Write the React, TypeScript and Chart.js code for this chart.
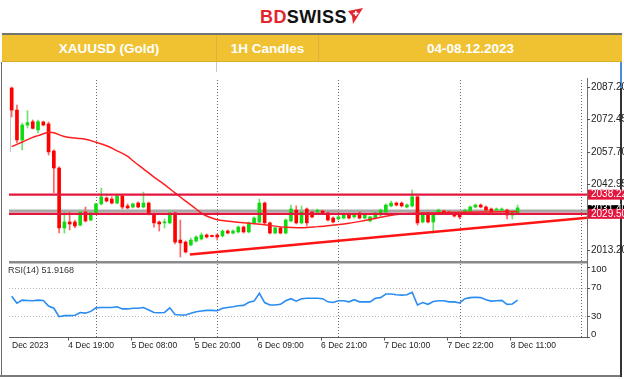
import React, { useEffect, useRef } from 'react';
import { Chart, registerables } from 'chart.js';

Chart.register(...registerables);

// ---- candle data (XAUUSD, 1H, 4 Dec 08:00 -> 8 Dec 11:00) ----
const opens = [
  2086.6, 2076.6, 2063.0, 2069.8, 2071.3, 2067.6, 2071.2, 2070.3, 2058.0, 2050.3,
  2023.1, 2025.8, 2025.8, 2024.4, 2030.3, 2026.7, 2029.9, 2034.0, 2036.7, 2036.2,
  2034.4, 2037.6, 2033.1, 2032.6, 2034.4, 2032.6, 2034.4, 2029.4, 2025.8, 2025.4,
  2025.4, 2029.9, 2017.6, 2016.7, 2015.4, 2017.2, 2018.1, 2019.9, 2019.7, 2019.9,
  2019.5, 2021.7, 2020.8, 2021.3, 2023.5, 2021.3, 2025.4, 2025.8, 2034.4, 2025.4,
  2020.8, 2023.1, 2020.8, 2026.3, 2031.2, 2025.4, 2031.7, 2030.3, 2030.3, 2030.8,
  2029.9, 2027.6, 2027.2, 2027.6, 2029.4, 2028.1, 2029.9, 2027.6, 2026.3, 2027.6,
  2029.0, 2030.3, 2033.1, 2034.4, 2034.4, 2032.6, 2033.1, 2037.2, 2025.8, 2029.9,
  2025.8, 2029.9, 2030.8, 2030.3, 2029.9, 2029.9, 2029.9, 2030.8, 2032.6, 2033.5,
  2032.6, 2031.7, 2031.2, 2031.2, 2031.2, 2029.0, 2029.9,
];
const highs = [
  2087.1, 2078.9, 2070.7, 2076.3, 2072.1, 2072.1, 2071.6, 2071.2, 2058.5, 2050.8,
  2030.3, 2030.3, 2026.7, 2031.2, 2032.6, 2030.8, 2034.4, 2041.2, 2037.2, 2037.2,
  2038.1, 2038.1, 2034.0, 2034.4, 2034.9, 2039.4, 2034.9, 2029.9, 2026.3, 2027.2,
  2031.2, 2030.3, 2026.7, 2017.2, 2018.5, 2019.5, 2020.8, 2020.4, 2019.9, 2020.4,
  2022.2, 2022.2, 2022.2, 2024.0, 2024.0, 2025.8, 2028.1, 2036.2, 2034.9, 2025.8,
  2023.5, 2023.5, 2027.2, 2033.5, 2033.1, 2033.1, 2032.2, 2030.8, 2031.7, 2031.2,
  2030.3, 2028.1, 2028.5, 2029.9, 2029.9, 2029.9, 2030.3, 2029.4, 2028.5, 2030.3,
  2031.7, 2034.0, 2035.3, 2034.9, 2034.9, 2034.0, 2040.3, 2037.6, 2030.3, 2030.3,
  2030.8, 2031.7, 2031.2, 2030.8, 2030.3, 2030.3, 2031.7, 2033.1, 2034.0, 2034.0,
  2033.1, 2032.2, 2032.2, 2032.2, 2031.7, 2030.8, 2033.5,
];
const lows = [
  2073.5, 2061.7, 2058.5, 2068.5, 2068.0, 2066.2, 2069.4, 2056.2, 2039.0, 2020.8,
  2020.8, 2022.2, 2023.1, 2024.0, 2025.8, 2026.3, 2029.4, 2033.5, 2034.9, 2034.0,
  2034.0, 2031.7, 2031.7, 2032.2, 2032.2, 2032.2, 2029.0, 2023.5, 2021.7, 2023.1,
  2024.9, 2015.8, 2009.9, 2011.7, 2014.9, 2016.7, 2017.6, 2018.5, 2019.0, 2017.6,
  2019.0, 2020.4, 2020.4, 2020.8, 2020.8, 2020.8, 2024.9, 2025.4, 2024.9, 2020.4,
  2020.4, 2020.4, 2020.4, 2025.8, 2024.9, 2024.9, 2024.0, 2027.6, 2029.9, 2029.4,
  2026.3, 2025.4, 2026.7, 2027.2, 2027.2, 2027.6, 2027.2, 2027.2, 2025.8, 2027.2,
  2028.5, 2029.9, 2032.6, 2033.1, 2032.6, 2032.2, 2032.6, 2024.4, 2025.4, 2025.4,
  2020.8, 2029.4, 2029.4, 2029.4, 2028.1, 2027.2, 2029.4, 2030.3, 2032.2, 2032.2,
  2030.8, 2029.9, 2030.8, 2030.8, 2027.2, 2027.2, 2029.4,
];
const closes = [
  2076.6, 2063.0, 2069.8, 2070.9, 2068.3, 2071.3, 2069.8, 2057.6, 2050.3, 2023.1,
  2025.8, 2024.9, 2024.0, 2030.3, 2026.3, 2029.9, 2034.0, 2037.2, 2035.3, 2034.4,
  2037.6, 2032.6, 2032.2, 2034.0, 2032.6, 2034.4, 2029.4, 2025.4, 2024.9, 2025.8,
  2029.9, 2016.7, 2016.3, 2012.2, 2017.6, 2019.0, 2019.9, 2019.0, 2019.2, 2019.0,
  2021.7, 2020.8, 2021.7, 2023.5, 2021.3, 2025.4, 2027.6, 2034.4, 2025.4, 2020.8,
  2023.1, 2020.8, 2026.7, 2031.7, 2025.4, 2030.3, 2025.4, 2028.1, 2031.2, 2029.9,
  2026.7, 2025.8, 2028.1, 2029.4, 2027.6, 2029.4, 2027.6, 2029.0, 2028.1, 2029.9,
  2031.2, 2033.5, 2034.4, 2033.5, 2033.1, 2033.5, 2037.2, 2025.4, 2029.9, 2025.8,
  2029.9, 2031.2, 2029.9, 2029.9, 2028.5, 2028.1, 2031.2, 2032.6, 2033.5, 2032.6,
  2031.2, 2030.3, 2031.7, 2031.7, 2029.0, 2030.3, 2032.2,
];

// ---- RSI(14) per candle ----
const rsi14 = [
  58, 48, 52.5, 52, 51.5, 52.5, 52, 44, 41, 29,
  30.5, 30.5, 31, 35, 34, 36.5, 41.5, 42, 42, 42,
  43, 40, 40, 41, 41, 42, 38.5, 35, 34.5, 35,
  41.5, 32, 31.5, 31.5, 34, 36, 37, 38, 38, 37.5,
  41, 42, 43, 44.5, 45, 49.5, 51, 62, 49, 45.5,
  45.5, 46.5, 51.5, 54.5, 51, 54.5, 55, 55, 55, 54.5,
  50, 49, 51.5, 51.5, 50, 53, 50, 50, 50, 55,
  56, 61, 61, 60, 59.5, 60, 63.5, 45.5, 49, 46.5,
  50.5, 51.5, 51.5, 50, 50, 48.5, 54.5, 56, 56.5, 56,
  53, 51, 51.5, 52, 46.5, 47, 52.5,
];

// ---- moving average (read at sample candles) ----
const maIdx = [0, 2, 4, 5, 7, 8, 10, 12, 14, 16, 18, 20, 22, 23, 25, 27, 29, 31, 33, 35, 36, 37, 39, 42, 45, 48, 52, 55, 58, 61, 64, 67, 71, 74, 78, 83, 89, 96];
const maVal = [2060.0, 2062.1, 2064.2, 2065.0, 2066.5, 2066.3, 2064.6, 2063.9, 2063.4, 2062.0, 2060.4, 2058.1, 2055.6, 2053.6, 2049.9, 2046.2, 2042.8, 2039.0, 2035.3, 2031.7, 2029.8, 2028.5, 2026.8, 2025.9, 2025.2, 2024.5, 2023.4, 2023.2, 2023.7, 2024.4, 2025.2, 2026.5, 2028.4, 2029.4, 2029.9, 2030.1, 2030.3, 2030.6];

// ---- drawn objects ----
const levelPrices = [2038.22, 2029.5];
const levelTexts = ['2038.22', '2029.50'];
const bidLinePrice = 2030.8;
const bidLabelPrice = 2031.4;
const bidLabelText = '2031.40';
const trendIdx = [33.8, 109.5];
const trendVal = [2011.0, 2027.8];

// ---- axes ----
const priceTicks = [2087.2, 2072.45, 2057.7, 2042.95, 2013.2];
const rsiTicks = [100, 70, 30, 0];
const rsiGuides = [70, 30];
const daySeparators = [16, 39, 62, 85, 108];
const timeLabelIdx = [0, 11, 23, 35, 47, 59, 71, 83, 95];
const timeLabels = ['Dec 2023', '4 Dec 19:00', '5 Dec 08:00', '5 Dec 20:00', '6 Dec 09:00', '6 Dec 21:00', '7 Dec 10:00', '7 Dec 22:00', '8 Dec 11:00'];

const X_MIN = -0.51;
const X_MAX = 109.17;
const P_MIN = 2008.1;
const P_MAX = 2091.15;

const FONT = '"Liberation Sans", Arial, sans-serif';
const UP = '#12DA12';
const DOWN = '#FF0000';

function dottedVerticals(chart: any, y0: number, y1: number) {
  const ctx = chart.ctx;
  const xs = chart.scales.x;
  ctx.save();
  ctx.strokeStyle = '#6a6a6a';
  ctx.lineWidth = 1;
  ctx.setLineDash([1, 2]);
  daySeparators.forEach((d) => {
    const px = Math.round(xs.getPixelForValue(d)) + 0.5;
    ctx.beginPath();
    ctx.moveTo(px, y0);
    ctx.lineTo(px, y1);
    ctx.stroke();
  });
  ctx.restore();
}

const mainPlugin = {
  id: 'mainDecor',
  beforeDatasetsDraw(chart: any) {
    const a = chart.chartArea;
    dottedVerticals(chart, a.top + 2, a.bottom);
  },
  afterDraw(chart: any) {
    const ctx = chart.ctx;
    const a = chart.chartArea;
    const ys = chart.scales.y;
    const W = chart.width;
    ctx.save();
    // price axis line
    ctx.strokeStyle = '#707070';
    ctx.lineWidth = 1;
    ctx.beginPath();
    ctx.moveTo(a.right + 0.5, 0);
    ctx.lineTo(a.right + 0.5, a.bottom);
    ctx.stroke();
    // ticks + labels
    ctx.font = '10px ' + FONT;
    ctx.textBaseline = 'middle';
    ctx.textAlign = 'left';
    priceTicks.forEach((v) => {
      const y = Math.round(ys.getPixelForValue(v)) + 0.5;
      ctx.strokeStyle = '#555';
      ctx.beginPath();
      ctx.moveTo(a.right, y);
      ctx.lineTo(a.right + 3, y);
      ctx.stroke();
      ctx.fillStyle = '#222';
      ctx.fillText(v.toFixed(2), a.right + 4, y);
    });
    // bid label (black)
    const by = ys.getPixelForValue(bidLabelPrice);
    ctx.fillStyle = '#000';
    ctx.fillRect(a.right + 1, by - 4.5, W - a.right, 9);
    ctx.fillStyle = '#fff';
    ctx.fillText(bidLabelText, a.right + 4, by);
    // level labels (red)
    levelPrices.forEach((p, k) => {
      const y = ys.getPixelForValue(p);
      ctx.fillStyle = '#E3173E';
      ctx.fillRect(a.right + 1, y - 5, W - a.right, 10);
      ctx.fillStyle = '#fff';
      ctx.fillText(levelTexts[k], a.right + 4, y);
    });
    ctx.restore();
  },
};

const rsiPlugin = {
  id: 'rsiDecor',
  beforeDatasetsDraw(chart: any) {
    const ctx = chart.ctx;
    const a = chart.chartArea;
    const ys = chart.scales.y;
    dottedVerticals(chart, 3, a.bottom);
    ctx.save();
    ctx.strokeStyle = '#b4b4b4';
    ctx.lineWidth = 1;
    ctx.setLineDash([1, 2]);
    rsiGuides.forEach((g) => {
      const y = Math.round(ys.getPixelForValue(g)) + 0.5;
      ctx.beginPath();
      ctx.moveTo(a.left, y);
      ctx.lineTo(a.right, y);
      ctx.stroke();
    });
    ctx.restore();
  },
  afterDraw(chart: any) {
    const ctx = chart.ctx;
    const a = chart.chartArea;
    const xs = chart.scales.x;
    const ys = chart.scales.y;
    ctx.save();
    // separator between panels (bottom border of price window)
    ctx.fillStyle = '#8a8a8a';
    ctx.fillRect(a.left, 0, a.right - a.left, 2.5);
    // price axis continuing
    ctx.strokeStyle = '#707070';
    ctx.lineWidth = 1;
    ctx.beginPath();
    ctx.moveTo(a.right + 0.5, 0);
    ctx.lineTo(a.right + 0.5, a.bottom + 1);
    ctx.stroke();
    // bottom time axis line
    const by = Math.round(a.bottom) + 0.5;
    ctx.strokeStyle = '#5a5a5a';
    ctx.lineWidth = 1.2;
    ctx.beginPath();
    ctx.moveTo(a.left, by);
    ctx.lineTo(a.right + 1, by);
    ctx.stroke();
    // time labels
    ctx.font = '8.5px ' + FONT;
    ctx.textBaseline = 'middle';
    ctx.textAlign = 'left';
    ctx.lineWidth = 1;
    timeLabelIdx.forEach((ti, k) => {
      const px = xs.getPixelForValue(ti);
      if (k > 0) {
        ctx.strokeStyle = '#555';
        ctx.beginPath();
        ctx.moveTo(Math.round(px) - 1.5, by);
        ctx.lineTo(Math.round(px) - 1.5, by + 3);
        ctx.stroke();
      }
      ctx.fillStyle = '#222';
      ctx.fillText(timeLabels[k], k === 0 ? px + 0.3 : px - 1.5, by + 8.5);
    });
    // rsi axis labels
    ctx.font = '9.5px ' + FONT;
    rsiTicks.forEach((v) => {
      let y = ys.getPixelForValue(v);
      const ty = Math.round(y) + 0.5;
      ctx.strokeStyle = '#555';
      ctx.beginPath();
      ctx.moveTo(a.right, ty);
      ctx.lineTo(a.right + 3, ty);
      ctx.stroke();
      if (v === 100) y += 2.5;
      if (v === 0) y -= 3.2;
      ctx.fillStyle = '#222';
      ctx.fillText(String(v), a.right + 4, y);
    });
    // indicator title
    ctx.font = '9px ' + FONT;
    ctx.fillStyle = '#333';
    ctx.fillText('RSI(14) 51.9168', 8, ys.getPixelForValue(100) + 4.5);
    ctx.restore();
  },
};

function mainConfig(): any {
  const idx = opens.map((_, i) => i);
  const up = idx.filter((i) => closes[i] >= opens[i]);
  const dn = idx.filter((i) => closes[i] < opens[i]);
  const flat = (p: number) => [
    { x: X_MIN, y: p },
    { x: X_MAX, y: p },
  ];
  return {
    type: 'bar',
    data: {
      datasets: [
        {
          type: 'line',
          data: trendIdx.map((x, k) => ({ x, y: trendVal[k] })),
          borderColor: '#FF1414',
          borderWidth: 2.5,
          pointRadius: 0,
          order: 0,
        },
        ...levelPrices.map((p) => ({
          type: 'line',
          data: flat(p),
          borderColor: '#E3173E',
          borderWidth: 2.2,
          pointRadius: 0,
          order: 1,
        })),
        {
          type: 'line',
          data: maIdx.map((x, k) => ({ x, y: maVal[k] })),
          borderColor: '#FF1E1E',
          borderWidth: 1.5,
          pointRadius: 0,
          tension: 0.35,
          order: 2,
        },
        {
          type: 'bar',
          data: up.map((i) => ({ x: i, y: [opens[i], closes[i]] })),
          backgroundColor: UP,
          barThickness: 3,
          minBarLength: 1,
          grouped: false,
          borderWidth: 0,
          order: 3,
        },
        {
          type: 'bar',
          data: dn.map((i) => ({ x: i, y: [opens[i], closes[i]] })),
          backgroundColor: DOWN,
          barThickness: 3,
          minBarLength: 1,
          grouped: false,
          borderWidth: 0,
          order: 3,
        },
        {
          type: 'bar',
          data: up.map((i) => ({ x: i, y: [lows[i], highs[i]] })),
          backgroundColor: '#6EE06E',
          barThickness: 1,
          grouped: false,
          borderWidth: 0,
          order: 4,
        },
        {
          type: 'bar',
          data: dn.map((i) => ({ x: i, y: [lows[i], highs[i]] })),
          backgroundColor: '#FF6464',
          barThickness: 1,
          grouped: false,
          borderWidth: 0,
          order: 4,
        },
        {
          type: 'line',
          data: flat(bidLinePrice),
          borderColor: '#A8A8A8',
          borderWidth: 3,
          pointRadius: 0,
          order: 5,
        },
      ],
    },
    options: {
      animation: false,
      responsive: false,
      maintainAspectRatio: false,
      devicePixelRatio: 1,
      events: [],
      layout: { padding: { left: 9, right: 37, top: 0, bottom: 0 } },
      plugins: { legend: { display: false }, tooltip: { enabled: false } },
      scales: {
        x: { type: 'linear', min: X_MIN, max: X_MAX, display: false, offset: false },
        y: { type: 'linear', min: P_MIN, max: P_MAX, display: false },
      },
    },
    plugins: [mainPlugin],
  };
}

function rsiConfig(): any {
  return {
    type: 'line',
    data: {
      datasets: [
        {
          data: rsi14.map((v, i) => ({ x: i, y: v })),
          borderColor: '#2A8CF0',
          borderWidth: 1.6,
          pointRadius: 0,
          tension: 0,
        },
      ],
    },
    options: {
      animation: false,
      responsive: false,
      maintainAspectRatio: false,
      devicePixelRatio: 1,
      events: [],
      layout: { padding: { left: 9, right: 37, top: 5.5, bottom: 38.8 } },
      plugins: { legend: { display: false }, tooltip: { enabled: false } },
      scales: {
        x: { type: 'linear', min: X_MIN, max: X_MAX, display: false },
        y: { type: 'linear', min: 0, max: 100, display: false },
      },
    },
    plugins: [rsiPlugin],
  };
}

const abs = (s: React.CSSProperties): React.CSSProperties => ({ position: 'absolute', ...s });

export default function App() {
  const mainRef = useRef<HTMLCanvasElement>(null);
  const rsiRef = useRef<HTMLCanvasElement>(null);

  useEffect(() => {
    document.body.style.margin = '0';
    const c1 = new Chart(mainRef.current as HTMLCanvasElement, mainConfig());
    const c2 = new Chart(rsiRef.current as HTMLCanvasElement, rsiConfig());
    return () => {
      c1.destroy();
      c2.destroy();
    };
  }, []);

  const cellText: React.CSSProperties = {
    position: 'absolute',
    top: 35,
    height: 27,
    lineHeight: '27px',
    textAlign: 'center',
    color: '#ffffff',
    fontFamily: FONT,
    fontWeight: 'bold',
    fontSize: 13.5,
    whiteSpace: 'nowrap',
  };

  return (
    <div style={{ position: 'fixed', left: 0, top: 0, width: 624, height: 379, background: '#fff', overflow: 'hidden' }}>
      {/* logo */}
      <div
        style={abs({
          left: 260,
          top: 8,
          lineHeight: '18px',
          fontFamily: FONT,
          fontWeight: 'bold',
          fontSize: 18,
          letterSpacing: 0.4,
          whiteSpace: 'nowrap',
        })}
      >
        <span style={{ color: '#E3262E' }}>BD</span>
        <span style={{ color: '#111' }}>SWISS</span>
      </div>
      <svg style={abs({ left: 347, top: 7 })} width={17} height={18} viewBox="0 0 17 18">
        <polygon points="1,4 16,1 6,17 5,9" fill="#E3262E" />
        <rect x={8} y={4} width={1.6} height={5} fill="#fff" />
        <rect x={6.3} y={5.7} width={5} height={1.6} fill="#fff" />
      </svg>

      {/* banner */}
      <div style={abs({ left: 2, top: 33, width: 620, height: 2, background: '#727272' })} />
      <div style={abs({ left: 2, top: 35, width: 620, height: 27, background: '#F0C232' })} />
      <div style={abs({ left: 2, top: 61, width: 620, height: 1, background: '#D9AC2A' })} />
      <div style={abs({ left: 216, top: 35, width: 1, height: 27, background: '#DDB23A' })} />
      <div style={abs({ left: 318, top: 35, width: 1, height: 27, background: '#DDB23A' })} />
      <div style={{ ...cellText, left: 2, width: 214 }}>XAUUSD (Gold)</div>
      <div style={{ ...cellText, left: 217, width: 101 }}>1H Candles</div>
      <div style={{ ...cellText, left: 319, width: 303 }}>04-08.12.2023</div>
      <div style={abs({ left: 216, top: 62, width: 1, height: 10, background: '#c8c8c8' })} />

      {/* frame */}
      <div style={abs({ left: 1, top: 62, width: 1, height: 314, background: '#6a6a6a' })} />
      <div style={abs({ left: 0, top: 375, width: 621, height: 1.5, background: '#7a7a7a' })} />
      <div style={abs({ left: 620, top: 62, width: 1.5, height: 315, background: '#333' })} />
      <div style={abs({ left: 620, top: 62, width: 1.5, height: 26, background: '#4A8FDC' })} />
      <div style={abs({ left: 10, top: 90, width: 1, height: 62, background: '#c4c4c4' })} />

      <canvas ref={mainRef} width={624} height={183} style={abs({ left: 0, top: 78, width: 624, height: 183 })} />
      <canvas ref={rsiRef} width={624} height={115} style={abs({ left: 0, top: 261, width: 624, height: 115 })} />
    </div>
  );
}
